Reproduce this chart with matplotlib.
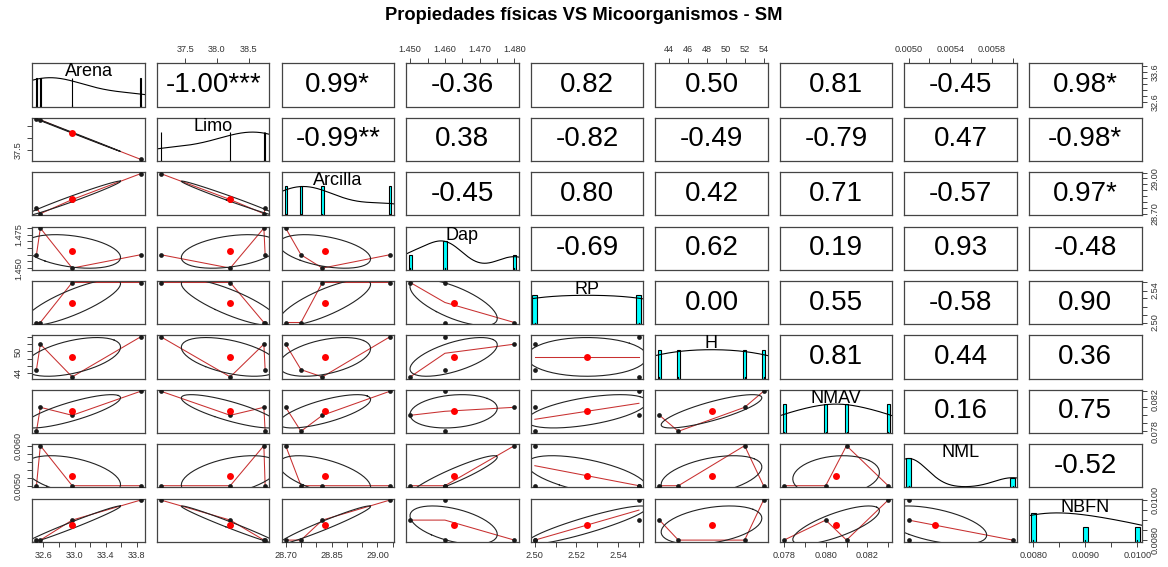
import numpy as np
import matplotlib
matplotlib.use("Agg")
import matplotlib.pyplot as plt

plt.rcParams['font.family'] = ['Liberation Sans', 'DejaVu Sans']

# ---------------- data (4 samples) ----------------
var_names = ["Arena", "Limo", "Arcilla", "Dap", "RP", "H", "NMAV", "NML", "NBFN"]
arena = [32.51, 32.56, 32.97, 33.85]
limo = [38.76, 38.74, 38.21, 37.12]
arcilla = [28.75, 28.70, 28.82, 29.04]
dap = [1.46, 1.48, 1.45, 1.46]
rp = [2.50, 2.50, 2.55, 2.55]
h_var = [45, 52, 43, 54]
nmav = [0.078, 0.081, 0.080, 0.083]
nml = [0.0050, 0.0060, 0.0050, 0.0050]
nbfn = [0.008, 0.008, 0.009, 0.010]

# correlation labels of the upper triangle, row by row
cor_row1 = ["-1.00***", "0.99*", "-0.36", "0.82", "0.50", "0.81", "-0.45", "0.98*"]
cor_row2 = ["-0.99**", "0.38", "-0.82", "-0.49", "-0.79", "0.47", "-0.98*"]
cor_row3 = ["-0.45", "0.80", "0.42", "0.71", "-0.57", "0.97*"]
cor_row4 = ["-0.69", "0.62", "0.19", "0.93", "-0.48"]
cor_row5 = ["0.00", "0.55", "-0.58", "0.90"]
cor_row6 = ["0.81", "0.44", "0.36"]
cor_row7 = ["0.16", "0.75"]
cor_row8 = ["-0.52"]

title = "Propiedades físicas VS Micoorganismos - SM"

data = [np.array(v, float) for v in (arena, limo, arcilla, dap, rp, h_var, nmav, nml, nbfn)]
cor_rows = [cor_row1, cor_row2, cor_row3, cor_row4, cor_row5, cor_row6, cor_row7, cor_row8]
n = len(var_names)

# ---------------- layout (pixels) ----------------
FW, FH = 1168, 567
X0, SX, PW = 32.3, 124.6, 112.4
Y0, SY, PH = 63.3, 54.4, 43.2
EDGE = '#444444'
TICK_FS = 6.6            # pt
TICK_PX = TICK_FS * 100 / 72

fig = plt.figure(figsize=(FW / 100, FH / 100), dpi=100)
fig.patch.set_facecolor('white')


def usr(v):
    lo, hi = v.min(), v.max()
    d = (hi - lo) * 0.04
    return lo - d, hi + d


def r_pretty(lo, hi, ndiv=5, h=0.8, h5=1.7):
    cell = (hi - lo) / ndiv
    U = 10 ** np.floor(np.log10(cell))
    unit = U
    if 2 * U - cell < h * (cell - unit):
        unit = 2 * U
        if 5 * U - cell < h5 * (cell - unit):
            unit = 5 * U
            if 10 * U - cell < h * (cell - unit):
                unit = 10 * U
    k0 = int(np.ceil(lo / unit - 1e-7))
    k1 = int(np.floor(hi / unit + 1e-7))
    ticks = np.array([k * unit for k in range(k0, k1 + 1)])
    dec = max(0, int(np.ceil(-np.log10(unit) - 1e-9)))
    return ticks, unit, dec


CW = {'.': 0.278, '-': 0.333}


def text_w(s):
    return sum(CW.get(c, 0.556) for c in s) * TICK_PX


def tick_labels(lo, hi, length_px):
    ticks, unit, dec = r_pretty(lo, hi)
    labs = []
    last_end = -1e9
    for t in ticks:
        s = f"{t:.{dec}f}"
        pos = (t - lo) / (hi - lo) * length_px
        w = text_w(s)
        if pos - w / 2 >= last_end:
            labs.append(s)
            last_end = pos + w / 2 + 0.88 * TICK_PX
        else:
            labs.append("")
    return ticks, labs


def lowess_like(x, y):
    xs = np.unique(x)
    ys = np.array([y[x == u].mean() for u in xs])
    return xs, ys


def density(v):
    q25, q75 = np.percentile(v, [25, 75])
    bw = 1.06 * min(v.std(ddof=1), (q75 - q25) / 1.34) * len(v) ** (-0.2) * 1.2
    g = np.linspace(v.min() - 3 * bw, v.max() + 3 * bw, 512)
    d = np.exp(-0.5 * ((g[:, None] - v[None, :]) / bw) ** 2).sum(axis=1)
    return g, d / d.max()


axes = {}
for i in range(n):
    for j in range(n):
        left = X0 + j * SX
        top = Y0 + i * SY
        ax = fig.add_axes([left / FW, 1 - (top + PH) / FH, PW / FW, PH / FH])
        axes[(i, j)] = ax
        xlo, xhi = usr(data[j])
        ylo, yhi = usr(data[i])
        ax.set_xlim(xlo, xhi)
        ax.set_ylim(ylo, yhi)
        for sp in ax.spines.values():
            sp.set_color(EDGE)
            sp.set_linewidth(0.9)
        ax.set_xticks([])
        ax.set_yticks([])
        x = data[j]
        y = data[i]
        if i == j:
            tr = ax.get_xaxis_transform()
            vals, counts = np.unique(x, return_counts=True)
            hgt = counts / counts.max()
            ib = np.min(np.diff(vals)) * (len(vals) - 1) / 41
            for b, hh in zip(vals, hgt):
                ax.add_patch(plt.Rectangle((b - ib, 0), 2 * ib, hh / 1.5, transform=tr,
                                           facecolor='#00ffff', edgecolor='black', lw=0.8))
            g, d = density(x)
            ax.plot(g, d / 1.5, color='black', lw=0.8, transform=tr)
            for b in x:
                ax.plot([b, b], [0, 0.03], color='black', lw=0.8, transform=tr)
            ax.text(0.5, 0.80, var_names[i], transform=ax.transAxes, ha='center',
                    va='center', fontsize=13, color='black')
        elif i > j:
            xm, ym = x.mean(), y.mean()
            sx, sy = x.std(ddof=1), y.std(ddof=1)
            r = np.corrcoef(x, y)[0, 1]
            ax.plot(x, y, 'o', color='#1a1a1a', ms=3.4, mec='none', zorder=3)
            lx, ly = lowess_like(x, y)
            ax.plot(lx, ly, color='#c83030', lw=0.75, zorder=2)
            ang = np.linspace(0, 2 * np.pi, 52)
            th = (np.sign(r) if abs(r) > 0 else 1.0) / np.sqrt(2)
            s1, s2 = np.sqrt(1 + r), np.sqrt(max(1 - r, 0))
            c, s = np.cos(ang), np.sin(ang)
            ex = c * s1 * th - s * s2 * th
            ey = c * s1 * th + s * s2 * th
            ax.plot(ex * sx + xm, ey * sy + ym, color='#222222', lw=0.8, zorder=2)
            ax.plot([xm], [ym], 'o', color='red', ms=5.0, mec='none', zorder=4)
        else:
            ax.text(0.5, 0.5, cor_rows[i][j - i - 1], transform=ax.transAxes,
                    ha='center', va='center', fontsize=20, color='black')

# ---------------- outer axes ----------------
tick_kw = dict(direction='out', length=3.6, width=0.7, color=EDGE,
               labelsize=TICK_FS, labelcolor='#333333', pad=3.2)
for j in range(n):
    lo, hi = usr(data[j])
    ticks, labs = tick_labels(lo, hi, PW)
    if j % 2 == 0:
        ax = axes[(n - 1, j)]
        ax.set_xticks(ticks)
        ax.set_xticklabels(labs)
        ax.tick_params(axis='x', bottom=True, **tick_kw)
    else:
        ax = axes[(0, j)]
        ax.xaxis.tick_top()
        ax.set_xticks(ticks)
        ax.set_xticklabels(labs)
        ax.tick_params(axis='x', top=True, bottom=False, **tick_kw)
    ax.set_xlim(lo, hi)

for i in range(n):
    lo, hi = usr(data[i])
    ticks, labs = tick_labels(lo, hi, PH)
    if i % 2 == 1:
        ax = axes[(i, 0)]
        ax.set_yticks(ticks)
        ax.set_yticklabels(labs, rotation=90, va='center')
        ax.tick_params(axis='y', left=True, **tick_kw)
    else:
        ax = axes[(i, n - 1)]
        ax.yaxis.tick_right()
        ax.set_yticks(ticks)
        ax.set_yticklabels(labs, rotation=90, va='center')
        ax.tick_params(axis='y', right=True, left=False, **tick_kw)
    ax.set_ylim(lo, hi)

fig.text(0.5, 1 - 16 / FH, title, ha='center', va='center', fontsize=13.2,
         fontweight='bold')

fig.savefig("out.png", dpi=100)
